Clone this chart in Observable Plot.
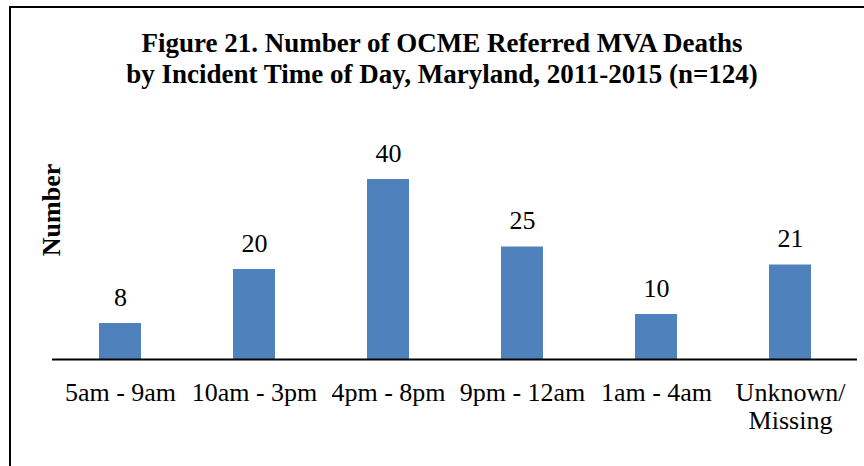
<!DOCTYPE html>
<html>
<head>
<meta charset="utf-8">
<script src="https://cdn.jsdelivr.net/npm/d3@7"></script>
<script src="https://cdn.jsdelivr.net/npm/@observablehq/plot@0.6"></script>
<style>
  html, body { margin: 0; padding: 0; background: #fff; }
  #wrap { position: relative; width: 864px; height: 466px; overflow: hidden; background: #fff; font-family: "Liberation Serif", "Times New Roman", serif; }
  #frame { position: absolute; left: 9px; top: 6px; right: -10px; bottom: -10px; border-left: 2px solid #000; border-top: 2px solid #000; }
  #title { position: absolute; left: 20px; width: 844px; top: 28px; text-align: center; font-weight: bold; font-size: 27px; line-height: 31px; color: #000; }
  #ylab { position: absolute; left: 52px; top: 210px; transform: translate(-50%, -50%) rotate(-90deg); font-weight: bold; font-size: 26px; line-height: 1; white-space: nowrap; color: #000; }
  #chart { position: absolute; left: 0; top: 100px; }
</style>
</head>
<body>
<div id="wrap">
  <div id="frame"></div>
  <div id="title">Figure 21. Number of OCME Referred MVA Deaths<br>by Incident Time of Day, Maryland, 2011-2015 (n=124)</div>
  <div id="chart"></div>
  <div id="ylab">Number</div>
</div>
<script>
const categories = ["5am - 9am", "10am - 3pm", "4pm - 8pm", "9pm - 12am", "1am - 4am", "Unknown/\nMissing"];
const values = [8, 20, 40, 25, 10, 21];

const data = categories.map((c, i) => ({category: c, value: values[i]}));

const chart = Plot.plot({
  width: 864,
  height: 366,
  marginLeft: 52,
  marginRight: 7,
  marginTop: 56.5,
  marginBottom: 107,
  style: {fontFamily: "'Liberation Serif', 'Times New Roman', serif", fontSize: "26px", background: "transparent", color: "#000"},
  x: {domain: categories, paddingInner: 0.687, paddingOuter: 0.3435, label: null},
  y: {domain: [0, 45], axis: null},
  marks: [
    Plot.barY(data, {x: "category", y: "value", fill: "#4F81BD"}),
    Plot.ruleY([0], {stroke: "#000", strokeWidth: 2}),
    Plot.text(data, {x: "category", y: "value", text: d => String(d.value), dy: -26, fontSize: 26, fill: "#000"}),
    Plot.axisX({tickSize: 0, tickPadding: 21, fontSize: 26, lineHeight: 1.1, label: null, fill: "#000"})
  ]
});
document.getElementById("chart").appendChild(chart);
</script>
</body>
</html>
